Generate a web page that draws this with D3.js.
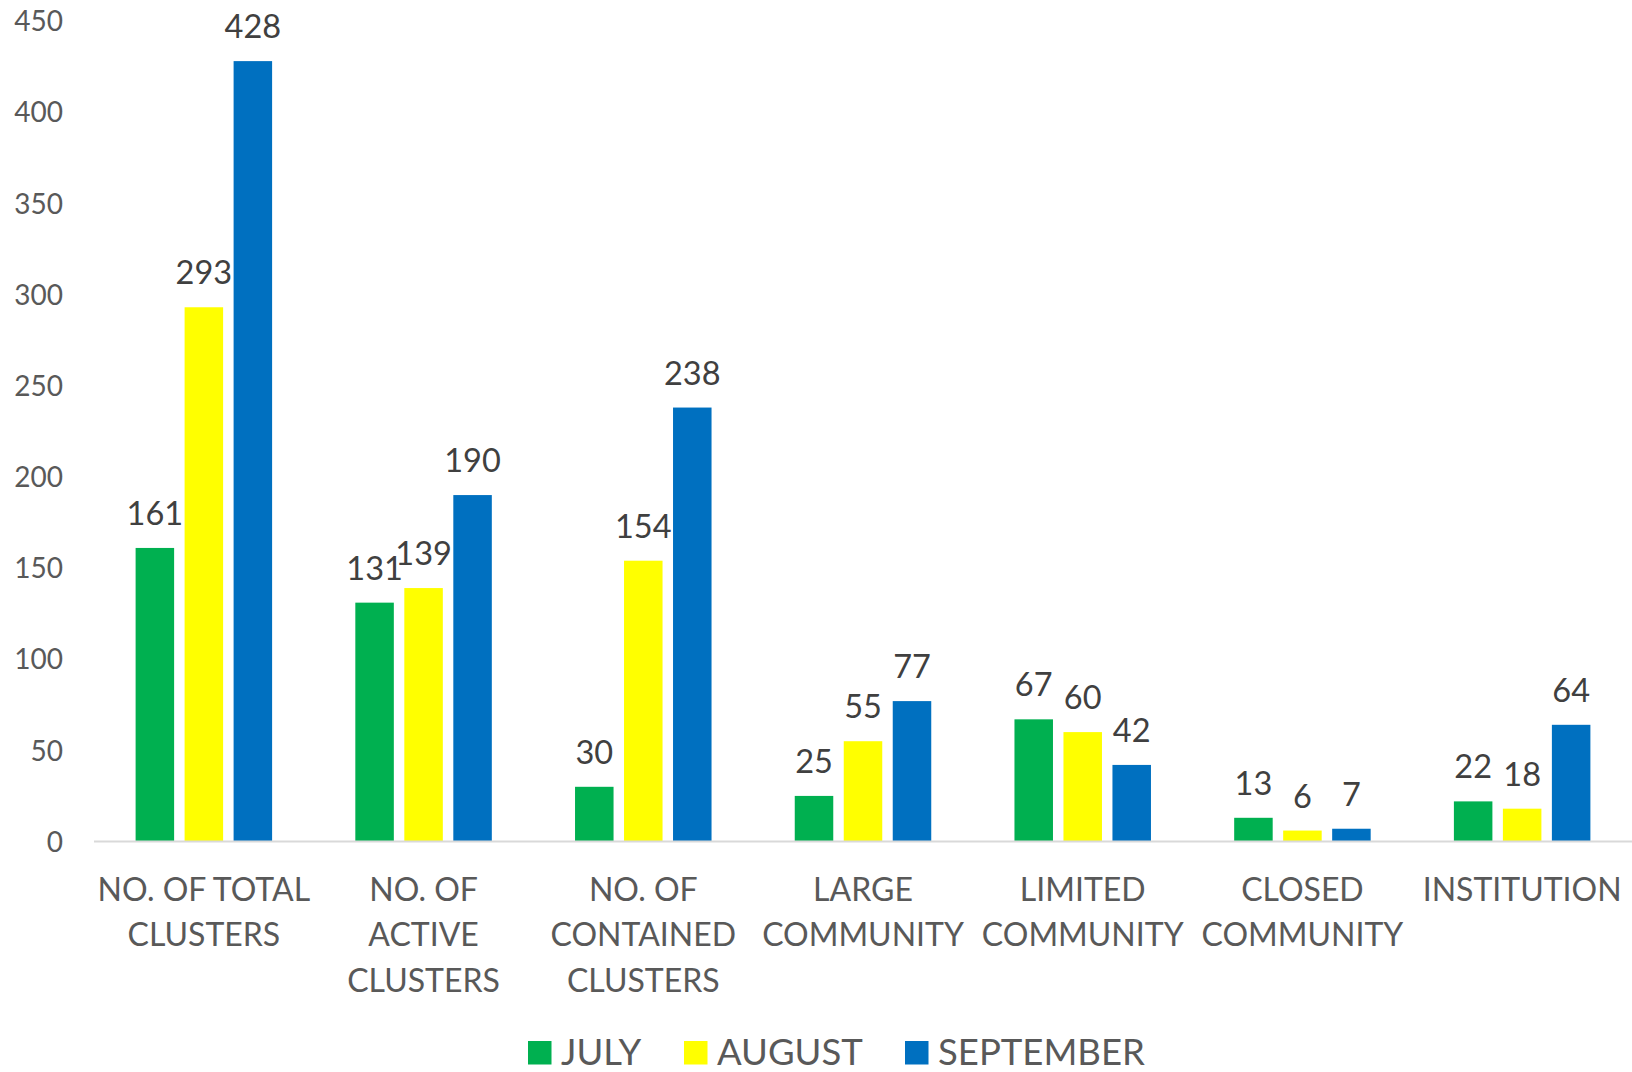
<!DOCTYPE html>
<html>
<head>
<meta charset="utf-8">
<script src="https://cdn.jsdelivr.net/npm/d3@7"></script>
<style>
  body { margin: 0; background: #fff; }
  svg { display: block; font-family: Lato, "Open Sans", sans-serif; }
</style>
</head>
<body>
<script>
// data
var categories = ["NO. OF TOTAL CLUSTERS", "NO. OF ACTIVE CLUSTERS", "NO. OF CONTAINED CLUSTERS",
  "LARGE COMMUNITY", "LIMITED COMMUNITY", "CLOSED COMMUNITY", "INSTITUTION"];
var categoryLines = [
  ["NO. OF TOTAL", "CLUSTERS"],
  ["NO. OF", "ACTIVE", "CLUSTERS"],
  ["NO. OF", "CONTAINED", "CLUSTERS"],
  ["LARGE", "COMMUNITY"],
  ["LIMITED", "COMMUNITY"],
  ["CLOSED", "COMMUNITY"],
  ["INSTITUTION"]
];
var seriesNames = ["JULY", "AUGUST", "SEPTEMBER"];
var july = [161, 131, 30, 25, 67, 13, 22];
var august = [293, 139, 154, 55, 60, 6, 18];
var september = [428, 190, 238, 77, 42, 7, 64];
var seriesColors = ["#00B050", "#FFFF00", "#0070C0"];
var yTicks = [0, 50, 100, 150, 200, 250, 300, 350, 400, 450];

var series = [july, august, september];

var W = 1632, H = 1072;
var plotLeft = 94, plotRight = 1632, plotTop = 21, base = 841.5;
var FONT = "Lato, sans-serif";

var svg = d3.select("body").append("svg").attr("width", W).attr("height", H);

var y = d3.scaleLinear().domain([0, 450]).range([base, plotTop]);
var x0 = d3.scaleBand().domain(categories).range([plotLeft, plotRight]).padding(0);
var groupW = 136.5;
var x1 = d3.scaleBand().domain(seriesNames).range([0, groupW]).paddingInner(0.214).paddingOuter(0);
var groupOff = (x0.bandwidth() - groupW) / 2;

// y axis labels only
var yAxis = svg.append("g")
  .attr("transform", `translate(${plotLeft - 31},0)`)
  .call(d3.axisLeft(y).tickValues(yTicks).tickSize(0).tickPadding(0));
yAxis.select(".domain").remove();
yAxis.selectAll("text")
  .attr("font-family", FONT)
  .attr("font-size", 28)
  .attr("fill", "#595959")
  .attr("dy", "0.35em");

// bars
var groups = svg.selectAll(".grp")
  .data(categories)
  .enter().append("g")
  .attr("class", "grp")
  .attr("transform", d => `translate(${x0(d) + groupOff},0)`);

groups.each(function(cat, ci) {
  var g = d3.select(this);
  seriesNames.forEach(function(s, si) {
    var v = series[si][ci];
    g.append("rect")
      .attr("x", x1(s))
      .attr("y", y(v))
      .attr("width", x1.bandwidth())
      .attr("height", base - y(v))
      .attr("fill", seriesColors[si]);
    g.append("text")
      .attr("x", x1(s) + x1.bandwidth() / 2)
      .attr("y", y(v) - 23)
      .attr("text-anchor", "middle")
      .attr("font-family", FONT)
      .attr("font-size", 32.5)
      .attr("fill", "#404040")
      .text(v);
  });
});

// baseline
svg.append("line")
  .attr("x1", plotLeft).attr("x2", plotRight)
  .attr("y1", base).attr("y2", base)
  .attr("stroke", "#D9D9D9").attr("stroke-width", 2);

// x axis labels
var xAxis = svg.append("g")
  .attr("transform", `translate(0,${base})`)
  .call(d3.axisBottom(x0).tickSize(0).tickFormat(""));
xAxis.select(".domain").remove();
xAxis.selectAll(".tick").each(function(d, i) {
  var t = d3.select(this).append("text")
    .attr("text-anchor", "middle")
    .attr("font-family", FONT)
    .attr("font-size", 32)
    .attr("fill", "#595959");
  categoryLines[i].forEach(function(line, li) {
    t.append("tspan").attr("x", 0).attr("y", 59 + li * 45.5).text(line);
  });
});

// legend
var legendX = [528, 684, 905];
var legend = svg.append("g").attr("transform", "translate(0,1041)");
seriesNames.forEach(function(s, i) {
  legend.append("rect")
    .attr("x", legendX[i]).attr("y", 0)
    .attr("width", 23.5).attr("height", 23.5)
    .attr("fill", seriesColors[i]);
  legend.append("text")
    .attr("x", legendX[i] + 33).attr("y", 23.5)
    .attr("font-family", FONT)
    .attr("font-size", 36.5)
    .attr("fill", "#595959")
    .text(s);
});
</script>
</body>
</html>
